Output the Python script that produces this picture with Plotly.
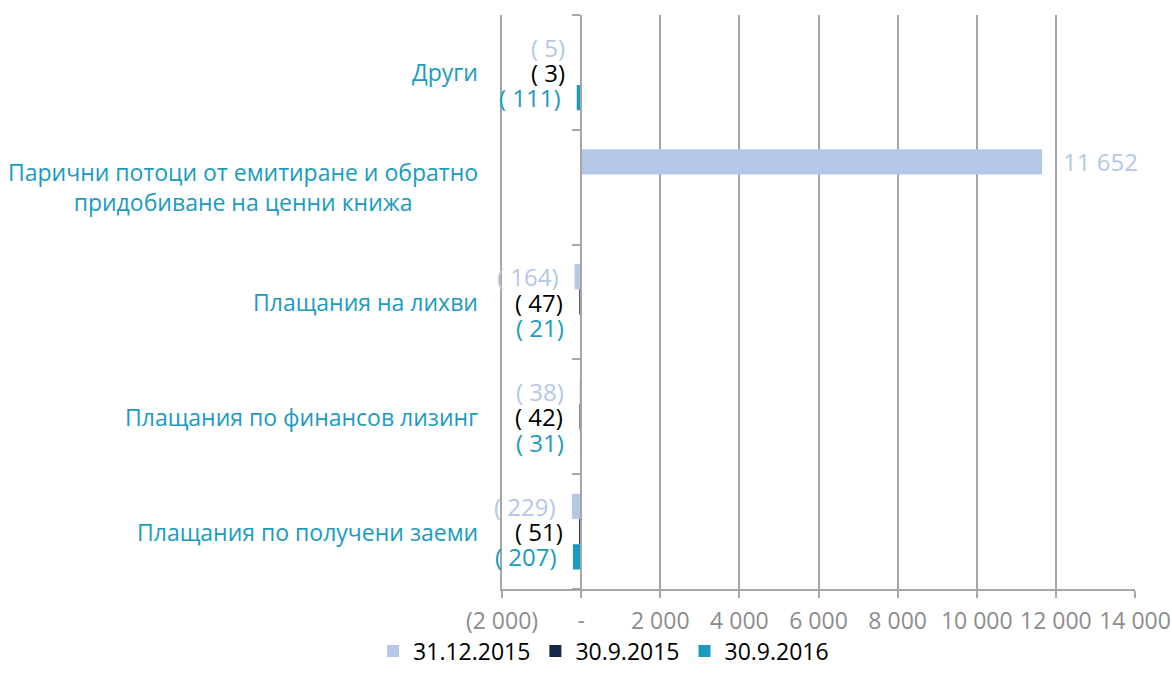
import plotly.graph_objects as go

# Categories, listed top to bottom
categories = [
    "Други",
    "Парични потоци от емитиране и обратно<br>придобиване на ценни книжа",
    "Плащания на лихви",
    "Плащания по финансов лизинг",
    "Плащания по получени заеми",
]

series_names = ["31.12.2015", "30.9.2015", "30.9.2016"]
values_31_12_2015 = [-5, 11652, -164, -38, -229]
values_30_9_2015 = [-3, None, -47, -42, -51]
values_30_9_2016 = [-111, None, -21, -31, -207]
series_values = [values_31_12_2015, values_30_9_2015, values_30_9_2016]

bar_colors = ["#b4c7e7", "#14284a", "#1a9bbd"]
label_colors = ["#b4c7e7", "#000000", "#1a9bbd"]
category_color = "#1a9bc0"
grid_color = "#a6a6a6"

x_ticks = [-2000, 0, 2000, 4000, 6000, 8000, 10000, 12000, 14000]

FONT = "Open Sans"


def fmt_number(v):
    s = f"{abs(v):,}".replace(",", " ")
    return f"( {s})" if v < 0 else s


def fmt_tick(v):
    if v == 0:
        return "-"
    s = f"{abs(v):,}".replace(",", " ")
    return f"({s})" if v < 0 else s


fig = go.Figure()
for name, vals, col in zip(series_names, series_values, bar_colors):
    fig.add_trace(go.Bar(
        y=categories, x=vals, name=name, orientation="h",
        marker=dict(color=col, line=dict(width=0)),
    ))

# value labels beside each bar end
bar_px = 25.3
offsets = [bar_px, 0, -bar_px]
annotations = []
for vals, col, dy in zip(series_values, label_colors, offsets):
    for cat, v in zip(categories, vals):
        if v is None:
            continue
        annotations.append(dict(
            x=v, y=cat, xref="x", yref="y", text=fmt_number(v),
            showarrow=False, xanchor="right" if v < 0 else "left",
            xshift=-14 if v < 0 else 19, yshift=dy,
            font=dict(family=FONT, size=24, color=col),
        ))

# category labels, centred lines, right edge left of the plot
for cat in categories:
    annotations.append(dict(
        x=0, y=cat, xref="paper", yref="y", text=cat, showarrow=False,
        xanchor="right", xshift=-22, align="center",
        font=dict(family=FONT, size=23, color=category_color),
    ))

x_min, x_max = -2000, 14000
zero_pos = (0 - x_min) / (x_max - x_min)

fig.update_layout(
    width=1172, height=689,
    margin=dict(l=502, r=37, t=15, b=100),
    paper_bgcolor="white", plot_bgcolor="white",
    barmode="group", bargap=0.34, bargroupgap=0,
    font=dict(family=FONT, size=20, color="#000000"),
    showlegend=True,
    legend=dict(
        orientation="h", xref="container", yref="container",
        x=0.515, xanchor="center", y=0.055, yanchor="middle",
        bgcolor="rgba(0,0,0,0)",
        font=dict(family=FONT, size=23, color="#000000"),
        itemwidth=30, tracegroupgap=0,
    ),
    xaxis=dict(
        range=[x_min, x_max], tickmode="array", tickvals=x_ticks,
        ticktext=[fmt_tick(v) for v in x_ticks],
        showgrid=True, gridcolor=grid_color, gridwidth=1.5,
        zeroline=False, showline=True, linecolor=grid_color, linewidth=1.5,
        ticks="outside", ticklen=7, tickcolor=grid_color, tickwidth=1.5,
        ticklabelstandoff=4, ticklabeloverflow="allow",
        tickfont=dict(family=FONT, size=23, color="#8c8c8c"),
        automargin=False, fixedrange=True,
    ),
    yaxis=dict(
        type="category", categoryorder="array", categoryarray=categories,
        range=[len(categories) - 0.5, -0.5],
        showticklabels=False, showgrid=False, zeroline=False,
        showline=True, linecolor=grid_color, linewidth=1.5,
        ticks="", automargin=False,
    ),
    # category-axis line and boundary ticks drawn at x = 0
    yaxis2=dict(
        overlaying="y", anchor="free", position=zero_pos, side="left",
        range=[len(categories) - 0.5, -0.5], tickmode="array",
        tickvals=[i - 0.5 for i in range(len(categories) + 1)],
        showticklabels=False, showgrid=False, zeroline=False,
        showline=True, linecolor=grid_color, linewidth=2,
        ticks="outside", ticklen=8, tickcolor=grid_color, tickwidth=1.5,
        automargin=False,
    ),
    annotations=annotations,
)

# keep the overlay axis active with an invisible trace
fig.add_trace(go.Scatter(x=[None], y=[None], yaxis="y2", showlegend=False,
                         hoverinfo="skip"))

fig.write_html("out.html")
